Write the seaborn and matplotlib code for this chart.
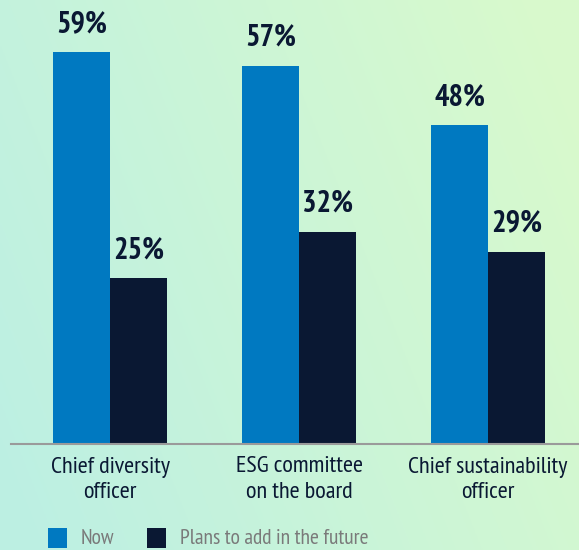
import matplotlib
matplotlib.use("Agg")
import matplotlib.pyplot as plt
from matplotlib.patches import Rectangle
import numpy as np
import pandas as pd
import seaborn as sns

# data
categories = ["Chief diversity\nofficer", "ESG committee\non the board", "Chief sustainability\nofficer"]
now_vals = [59, 57, 48]
future_vals = [25, 32, 29]
series_names = ["Now", "Plans to add in the future"]
colors = ["#0079c1", "#0a1833"]

df = pd.DataFrame({
    "category": categories * 2,
    "value": now_vals + future_vals,
    "series": [series_names[0]] * 3 + [series_names[1]] * 3,
})

sns.set_theme(style="white")
plt.rcParams['font.family'] = ['PT Sans Narrow', 'Roboto Condensed', 'DejaVu Sans']

fig = plt.figure(figsize=(5.79, 5.5), dpi=100)

# background gradient (teal on the left, light green on the right)
bg = fig.add_axes([0, 0, 1, 1], zorder=0)
xx, yy = np.meshgrid(np.linspace(0, 1, 200), np.linspace(0, 1, 200))
t = np.clip(0.8 * xx + 0.3 * (1 - yy) - 0.05, 0, 1)
teal = np.array([0.74, 0.94, 0.89])
green = np.array([0.85, 0.98, 0.80])
img = teal[None, None, :] * (1 - t[..., None]) + green[None, None, :] * t[..., None]
bg.imshow(img, aspect="auto", extent=[0, 1, 0, 1], origin="upper")
bg.axis("off")

ax = fig.add_axes([11 / 579, 106 / 550, 568 / 579, 444 / 550], zorder=1)
ax.patch.set_alpha(0)
sns.barplot(data=df, x="category", y="value", hue="series", palette=colors,
            width=0.6, saturation=1, linewidth=0, ax=ax, legend=False)

ax.set_xlim(-0.524, 2.481)
ax.set_ylim(0, 66.9)
ax.set_xlabel("")
ax.set_ylabel("")
ax.set_yticks([])
for s in ["top", "right", "left"]:
    ax.spines[s].set_visible(False)
ax.spines["bottom"].set_color("#9a9a9a")
ax.spines["bottom"].set_linewidth(1.5)
ax.tick_params(axis="x", length=0, pad=9)
for lbl in ax.get_xticklabels():
    lbl.set_fontsize(17.5)
    lbl.set_color("#0a1833")
    lbl.set_linespacing(1.25)

for cont in ax.containers:
    ax.bar_label(cont, fmt="%d%%", padding=10, fontsize=22, fontweight="bold", color="#0a1833")

# legend
leg_x = [48, 147]
for i, name in enumerate(series_names):
    fig.patches.append(Rectangle((leg_x[i] / 579, 2 / 550), 19 / 579, 20 / 550,
                                 transform=fig.transFigure, facecolor=colors[i],
                                 edgecolor="none", zorder=2))
    fig.text((leg_x[i] + 33) / 579, 12 / 550, name, fontsize=15.5, color="#7a7a7a",
             va="center", ha="left", zorder=2)

fig.savefig("out.png", dpi=100)
